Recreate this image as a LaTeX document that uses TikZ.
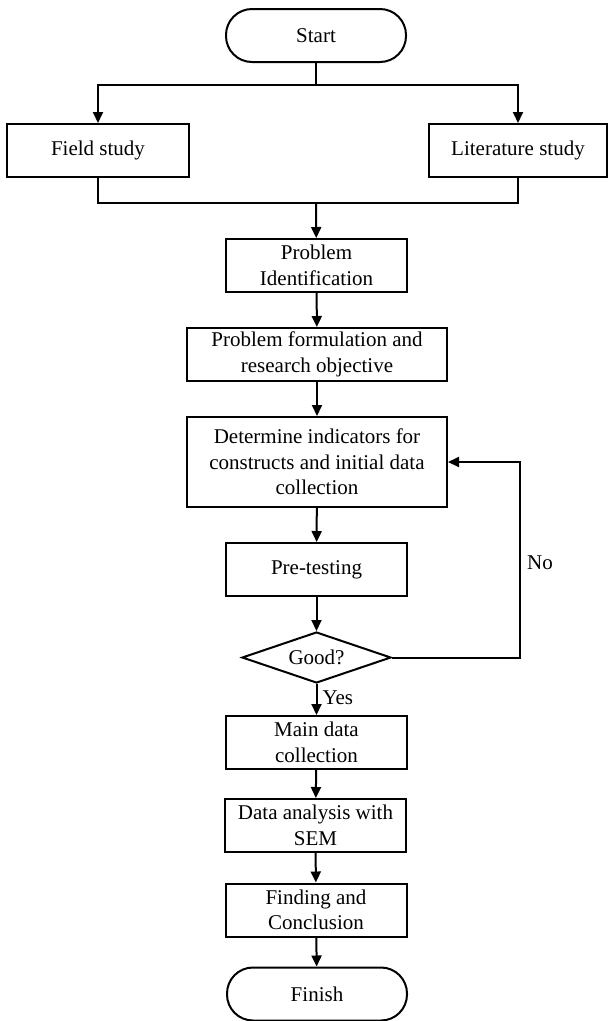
\documentclass[tikz,border=0pt]{standalone}
\usepackage{fontspec}
\setmainfont{Liberation Serif}
\usetikzlibrary{shapes.geometric,arrows.meta}
\tikzset{
  base/.style={draw=black, line width=2pt, inner sep=2pt, align=center,
    font=\fontsize{21}{25.5}\selectfont},
  procbox/.style={base, rectangle, minimum height=53pt},
  termbox/.style={base, rectangle, rounded corners=26pt, minimum width=180pt, minimum height=53pt},
  decbox/.style={base, diamond, inner sep=0pt, aspect=2.9, minimum width=149pt, minimum height=51pt},
  conn/.style={line width=2pt},
  arr/.style={conn, -{Triangle[length=11pt,width=10pt]}},
  lbl/.style={font=\fontsize{21}{25.5}\selectfont, inner sep=0pt}
}
\begin{document}
\begin{tikzpicture}[x=1pt,y=-1pt]
\useasboundingbox (0,0) rectangle (608,1021);
\node[termbox] (start) at (316,35.5) {Start};
\node[procbox, minimum width=182pt] (field) at (98,150.5) {Field study};
\node[procbox, minimum width=178pt] (lit) at (518,150.5) {Literature study};
\node[procbox, minimum width=181pt] (probid) at (316.5,265.5) {Problem\\Identification};
\node[procbox, minimum width=260pt] (form) at (317,354.5) {Problem formulation and\\research objective};
\node[procbox, minimum width=260pt, minimum height=90pt] (det) at (317,462) {Determine indicators for\\constructs and initial data\\collection};
\node[procbox, minimum width=181pt] (pre) at (316.5,569.5) {Pre-testing};
\node[decbox] (good) at (316.5,657.5) {Good?};
\node[procbox, minimum width=181pt] (main) at (316.5,742.5) {Main data\\collection};
\node[procbox, minimum width=181pt] (sem) at (315.5,825.5) {Data analysis with\\SEM};
\node[procbox, minimum width=181pt] (find) at (316,910) {Finding and\\Conclusion};
\node[termbox] (finish) at (317,994) {Finish};

\coordinate (br) at (316,85);
\coordinate (jn) at (316,202.5);
\coordinate (lp) at (520,462);

\draw[conn] (start) -- (br);
\draw[arr] (br) -| (field);
\draw[arr] (br) -| (lit);
\draw[conn] (field) |- (jn);
\draw[conn] (lit) |- (jn);
\draw[arr] (jn) -- (probid);
\draw[arr] (probid) -- (form);
\draw[arr] (form) -- (det);
\draw[arr] (det) -- (pre);
\draw[arr] (pre) -- (good);
\draw[arr] (good) -- (main) node[lbl, pos=0.45, anchor=west, xshift=5pt] (yes) {Yes};
\draw[arr] (main) -- (sem);
\draw[arr] (sem) -- (find);
\draw[arr] (find) -- (finish);
\draw[arr] (good.east) -| (lp) -- (det.east);
\node[lbl] (no) at (540,563) {No};
\end{tikzpicture}
\end{document}
